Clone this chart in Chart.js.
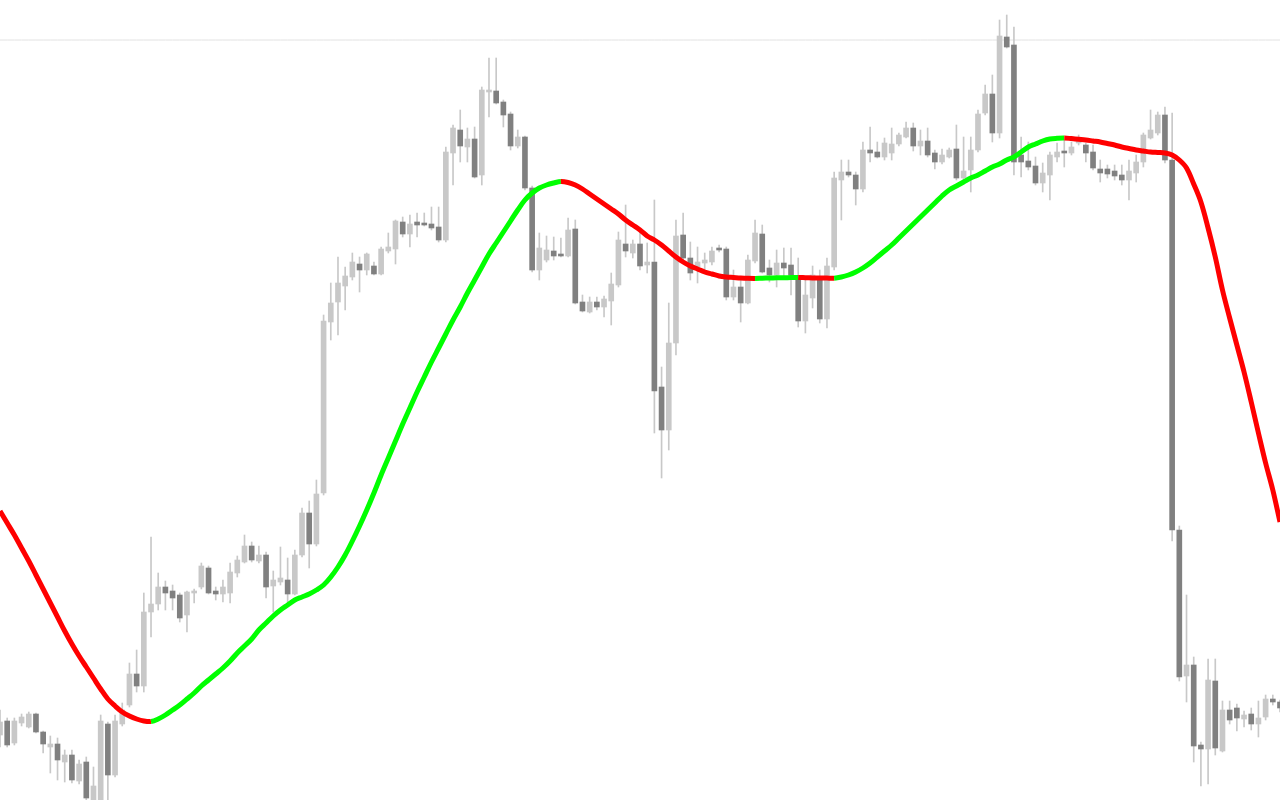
<!DOCTYPE html>
<html><head><meta charset="utf-8">
<script src="https://cdn.jsdelivr.net/npm/chart.js@4.4.1/dist/chart.umd.min.js"></script>
<style>html,body{margin:0;padding:0;background:#fff;overflow:hidden}#wrap{width:1280px;height:800px;position:relative}</style>
</head><body><div id="wrap"><canvas id="c"></canvas></div>
<script>
const opens=[65,79,57,77,73,86,68,53,56,38,45,19,38,-4,-2,76,25,76,95,126,114,188,196,213,209,205,185,207,213,232,209,206,207,227,238,254,239,245,214,218,220,206,245,287,256,307,478,498,514,523,536,530,534,526,549,551,578,566,578,577,576,573,560,647,670,653,661,625,708,709,698,686,654,663,612,530,540,549,546,544,571,498,488,498,493,499,515,556,547,556,535,538,413,370,457,565,542,533,537,538,552,551,503,513,497,539,566,532,525,537,535,522,479,502,522,481,533,620,628,625,611,650,648,643,647,656,663,672,654,659,647,638,643,651,622,630,650,687,706,667,763,755,645,639,634,617,625,643,649,647,657,655,648,631,631,629,625,620,627,638,662,667,685,640,270,124,135,55,51,119,49,90,92,81,86,76,83,101,98];
const closes=[78,55,79,83,86,68,56,56,40,45,20,36,2,14,79,25,79,90,126,114,188,196,213,207,202,182,208,209,234,207,206,213,228,240,254,240,245,213,220,222,206,245,287,256,306,479,497,517,524,538,530,546,526,551,553,579,566,576,575,575,572,560,648,672,654,661,623,710,710,697,685,654,663,612,530,552,550,544,544,570,497,489,498,493,501,516,560,549,556,534,538,409,370,457,564,542,527,538,540,549,550,503,513,497,540,567,528,525,537,532,525,479,505,525,481,534,622,628,625,611,650,647,643,657,656,665,672,654,659,645,638,645,650,622,629,650,686,706,667,764,753,638,638,633,617,627,645,648,647,653,662,647,632,627,626,624,620,629,638,665,670,685,640,270,123,135,54,51,120,52,90,80,82,85,76,82,101,98,92];
const highs=[90,82,82,86,88,87,69,64,62,50,50,40,43,33,85,78,85,97,137,150,207,263,227,219,215,207,209,211,237,234,213,220,237,244,265,258,254,248,229,253,242,250,292,299,320,485,517,543,533,547,543,547,538,553,567,580,583,585,587,587,593,593,653,675,690,672,673,713,742,742,700,688,670,664,614,567,564,563,562,582,580,505,503,503,504,527,568,595,560,570,557,600,433,497,580,587,558,553,547,553,555,553,530,520,545,580,575,540,550,552,552,542,522,534,530,542,628,640,640,628,658,673,658,662,672,667,678,677,670,672,650,651,652,675,663,663,690,715,725,780,785,773,663,658,643,637,648,657,660,658,665,657,655,640,635,635,635,640,645,667,690,688,693,687,274,205,143,58,141,141,99,99,96,89,92,99,105,105,100];
const lows=[53,53,55,74,72,67,47,27,20,18,17,16,-2,-9,-6,-2,23,74,93,108,108,163,190,190,190,178,168,197,211,206,200,198,197,223,237,238,237,202,188,215,197,205,243,232,254,305,460,465,490,520,508,525,525,525,547,536,563,553,563,574,570,558,558,615,638,638,622,615,683,696,673,650,652,610,528,520,538,540,543,543,496,488,487,490,483,475,513,543,542,530,527,367,322,350,445,537,520,517,527,535,548,500,500,478,496,537,527,518,513,522,505,473,467,492,477,472,530,580,623,595,608,638,642,640,640,654,662,649,645,643,631,636,642,620,617,608,648,685,658,662,752,625,623,630,615,608,600,638,633,645,655,638,630,618,622,620,615,600,618,633,661,665,637,259,119,98,38,14,16,45,48,76,69,73,70,63,80,95,88];
const maLine=[289,277,265,252,239,225,211,197,183,169,156,144,133,122,111,101,94,88,84,81,79,78.5,81,85,90,95,101,107,114,120,126,132,139,147,154,161,170,177,184,190,195,200,203,206,210,215,223,233,245,259,274,290,307,325,342,359,376,392,408,423,438,452,466,480,493,507,520,533,546,557,568,579,590,600,607,612,615,617,618.5,617.5,615,611,606,601,596,591,586,580,575,570,564,560,555,549,543,538,534,531,528,526,524,523,522.5,522,521.7,521.6,521.8,522,522.2,522.3,522.4,522.5,522.3,522.1,522,521.9,521.8,523,525,528,532,537,543,549,555,562,569,576,583,590,597,604,610,614,618,622,625,629,633,636,640,643,648,653,656,659,661,661.7,662,661.4,660.7,660,659,658,656.5,655,653,651.5,650,649,648,647.5,647,645,640,632,616,598,572,543,510,482,455,428,398,367,337,310,278];
const levelPrice=760;
const categories=opens.map((_,i)=>'Bar '+(i+1));

const bodyLight='#c8c8c8', bodyDark='#808080', wickColor='#c8c8c8';
const upColor='#00ff00', downColor='#ff0000';
const isUp=i=>closes[i]>=opens[i];

new Chart(document.getElementById('c'),{
  type:'bar',
  data:{labels:categories,datasets:[
    {type:'line',data:categories.map(()=>levelPrice),borderColor:'#e2e2e2',borderWidth:1,pointRadius:0,order:4},
    {type:'bar',data:lows.map((l,i)=>[l,highs[i]]),backgroundColor:wickColor,barThickness:1,grouped:false,order:3},
    {type:'bar',data:opens.map((o,i)=>[Math.min(o,closes[i]),Math.max(o,closes[i])]),backgroundColor:c=>isUp(c.dataIndex)?bodyLight:bodyDark,barThickness:5,minBarLength:1,grouped:false,order:2},
    {type:'line',data:maLine,borderWidth:5,pointRadius:0,tension:0.35,borderColor:downColor,
      segment:{borderColor:c=>c.p1.parsed.y>=c.p0.parsed.y?upColor:downColor},order:1}
  ]},
  options:{responsive:true,maintainAspectRatio:false,animation:false,events:[],
    layout:{padding:0},
    plugins:{legend:{display:false},tooltip:{enabled:false}},
    scales:{x:{display:false,offset:false},y:{display:false,min:0,max:800}}}
});
</script></body></html>
